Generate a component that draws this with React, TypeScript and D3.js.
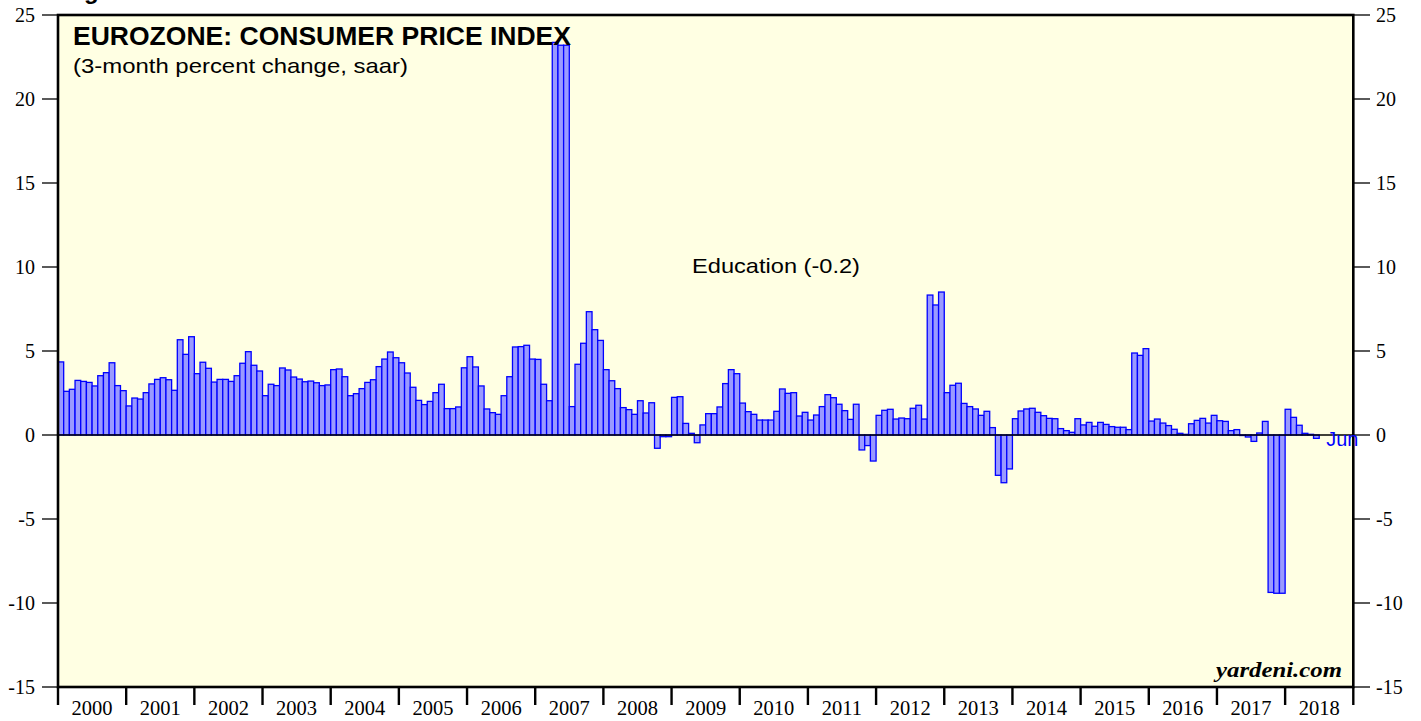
import React from "react";
import * as d3 from "d3";

// Monthly values, Jan 2000 .. Jun 2018 (3-month percent change, saar)
const monthlyValues: number[] = [
  // 2000
  4.35, 2.6, 2.72, 3.25, 3.19, 3.13, 2.92, 3.53, 3.71, 4.3, 2.94, 2.64,
  // 2001
  1.73, 2.2, 2.14, 2.52, 3.04, 3.31, 3.41, 3.29, 2.66, 5.67, 4.8, 5.85,
  // 2002
  3.65, 4.33, 3.97, 3.15, 3.31, 3.31, 3.19, 3.53, 4.27, 4.96, 4.15, 3.81,
  // 2003
  2.34, 3.02, 2.94, 3.99, 3.87, 3.45, 3.33, 3.17, 3.21, 3.11, 2.94, 2.98,
  // 2004
  3.89, 3.93, 3.47, 2.34, 2.46, 2.76, 3.13, 3.29, 4.07, 4.52, 4.94, 4.6,
  // 2005
  4.3, 3.69, 2.84, 2.06, 1.81, 2.0, 2.52, 3.02, 1.57, 1.57, 1.67, 4.0,
  // 2006
  4.66, 4.05, 2.92, 1.55, 1.33, 1.23, 2.34, 3.47, 5.24, 5.26, 5.34, 4.52,
  // 2007
  4.5, 3.02, 2.04, 23.37, 23.2, 23.2, 1.69, 4.21, 5.46, 7.34, 6.27, 5.63,
  // 2008
  3.89, 3.23, 2.76, 1.63, 1.51, 1.23, 2.04, 1.31, 1.92, -0.79, -0.1, -0.1,
  // 2009
  2.24, 2.28, 0.69, 0.1, -0.46, 0.6, 1.27, 1.27, 1.67, 3.06, 3.89, 3.65,
  // 2010
  1.9, 1.39, 1.23, 0.89, 0.89, 0.89, 1.41, 2.74, 2.48, 2.52, 1.13, 1.35,
  // 2011
  0.89, 1.19, 1.69, 2.4, 2.22, 1.83, 1.45, 0.93, 1.83, -0.89, -0.63, -1.55,
  // 2012
  1.17, 1.47, 1.53, 0.95, 1.01, 0.97, 1.59, 1.77, 0.95, 8.33, 7.74, 8.51,
  // 2013
  2.52, 2.96, 3.08, 1.88, 1.69, 1.55, 1.17, 1.41, 0.44, -2.4, -2.84, -2.02,
  // 2014
  0.97, 1.43, 1.55, 1.59, 1.35, 1.15, 0.99, 0.97, 0.38, 0.26, 0.16, 0.97,
  // 2015
  0.6, 0.75, 0.52, 0.75, 0.63, 0.5, 0.46, 0.46, 0.32, 4.88, 4.74, 5.14,
  // 2016
  0.83, 0.95, 0.71, 0.56, 0.34, 0.1, 0.04, 0.67, 0.87, 0.99, 0.71, 1.17,
  // 2017
  0.85, 0.81, 0.26, 0.32, 0.0, -0.12, -0.38, 0.12, 0.81, -9.37, -9.42, -9.42,
  // 2018
  1.53, 1.05, 0.58, 0.1, 0.04, -0.2,
];

const yearLabels: string[] = [
  "2000", "2001", "2002", "2003", "2004", "2005", "2006", "2007", "2008", "2009",
  "2010", "2011", "2012", "2013", "2014", "2015", "2016", "2017", "2018",
];

const yTicks: number[] = [-15, -10, -5, 0, 5, 10, 15, 20, 25];

const titleText = "EUROZONE: CONSUMER PRICE INDEX";
const subtitleText = "(3-month percent change, saar)";
const seriesLabel = "Education (-0.2)";
const lastMonthLabel = "Jun";
const sourceText = "yardeni.com";

const W = 1421;
const H = 721;
const left = 58;
const right = 1353.3;
const top = 15;
const bottom = 687;

const SANS = "'Liberation Sans', Arial, Helvetica, sans-serif";
const SERIF = "'Liberation Serif', 'Times New Roman', Times, serif";

export default function App() {
  const nMonths = yearLabels.length * 12;
  const x = d3.scaleLinear().domain([0, nMonths]).range([left, right]);
  const y = d3.scaleLinear().domain([-15, 25]).range([bottom, top]);
  const y0 = y(0);
  const lastIdx = monthlyValues.length - 1;

  return (
    <svg
      width={W}
      height={H}
      style={{ position: "absolute", left: 0, top: 0, background: "#fff" }}
    >
      {/* cut-off heading fragment at the very top */}
      <text x={84} y={-1} fontFamily={SANS} fontWeight="bold" fontSize={24} fill="#000">
        g
      </text>

      {/* plot background */}
      <rect x={left} y={top} width={right - left} height={bottom - top} fill="#FFFFE3" />

      {/* bars */}
      <g>
        {monthlyValues.map((v, i) => {
          const x0 = x(i);
          const x1 = x(i + 1);
          const yv = y(v);
          return (
            <rect
              key={i}
              x={x0}
              y={Math.min(yv, y0)}
              width={x1 - x0}
              height={Math.max(Math.abs(yv - y0), 0.5)}
              fill="#9a9aff"
              stroke="#0000ff"
              strokeWidth={1.3}
            />
          );
        })}
      </g>

      {/* zero line */}
      <line x1={left} x2={right} y1={y0} y2={y0} stroke="#000" strokeWidth={1.6} />

      {/* frame */}
      <rect
        x={left}
        y={top}
        width={right - left}
        height={bottom - top}
        fill="none"
        stroke="#000"
        strokeWidth={2.6}
      />

      {/* left axis ticks + labels */}
      {yTicks.map((t) => (
        <g key={"l" + t}>
          <line x1={42} x2={left} y1={y(t)} y2={y(t)} stroke="#000" strokeWidth={1.3} />
          <text
            x={35}
            y={y(t) + 7}
            textAnchor="end"
            fontFamily={SERIF}
            fontSize={20}
            fill="#000"
          >
            {t}
          </text>
        </g>
      ))}

      {/* right axis ticks + labels */}
      {yTicks.map((t) => (
        <g key={"r" + t}>
          <line x1={right} x2={1370} y1={y(t)} y2={y(t)} stroke="#000" strokeWidth={1.3} />
          <text
            x={1376}
            y={y(t) + 7}
            textAnchor="start"
            fontFamily={SERIF}
            fontSize={20}
            fill="#000"
          >
            {t}
          </text>
        </g>
      ))}

      {/* year ticks */}
      {d3.range(yearLabels.length + 1).map((k) => (
        <line
          key={"yt" + k}
          x1={x(k * 12)}
          x2={x(k * 12)}
          y1={bottom}
          y2={705}
          stroke="#000"
          strokeWidth={2.4}
        />
      ))}
      {yearLabels.map((lab, k) => (
        <text
          key={"yl" + lab}
          x={x(k * 12 + 6)}
          y={715}
          textAnchor="middle"
          fontFamily={SERIF}
          fontSize={20.5}
          fill="#000"
        >
          {lab}
        </text>
      ))}

      {/* titles */}
      <text
        x={73}
        y={45}
        fontFamily={SANS}
        fontWeight="bold"
        fontSize={25}
        textLength={498}
        lengthAdjust="spacingAndGlyphs"
        fill="#000"
      >
        {titleText}
      </text>
      <text
        x={73}
        y={73}
        fontFamily={SANS}
        fontSize={21}
        textLength={335}
        lengthAdjust="spacingAndGlyphs"
        fill="#000"
      >
        {subtitleText}
      </text>

      {/* series label */}
      <text
        x={692}
        y={273}
        fontFamily={SANS}
        fontSize={21}
        textLength={168}
        lengthAdjust="spacingAndGlyphs"
        fill="#000"
      >
        {seriesLabel}
      </text>

      {/* last month label */}
      <text
        x={x(lastIdx + 1) + 7}
        y={y0 + 11}
        fontFamily={SANS}
        fontSize={21}
        textLength={32}
        lengthAdjust="spacingAndGlyphs"
        fill="#0000ff"
      >
        {lastMonthLabel}
      </text>

      {/* source */}
      <text
        x={1342}
        y={677}
        textAnchor="end"
        fontFamily={SERIF}
        fontStyle="italic"
        fontWeight="bold"
        fontSize={21}
        textLength={126}
        lengthAdjust="spacingAndGlyphs"
        fill="#000"
      >
        {sourceText}
      </text>
    </svg>
  );
}
